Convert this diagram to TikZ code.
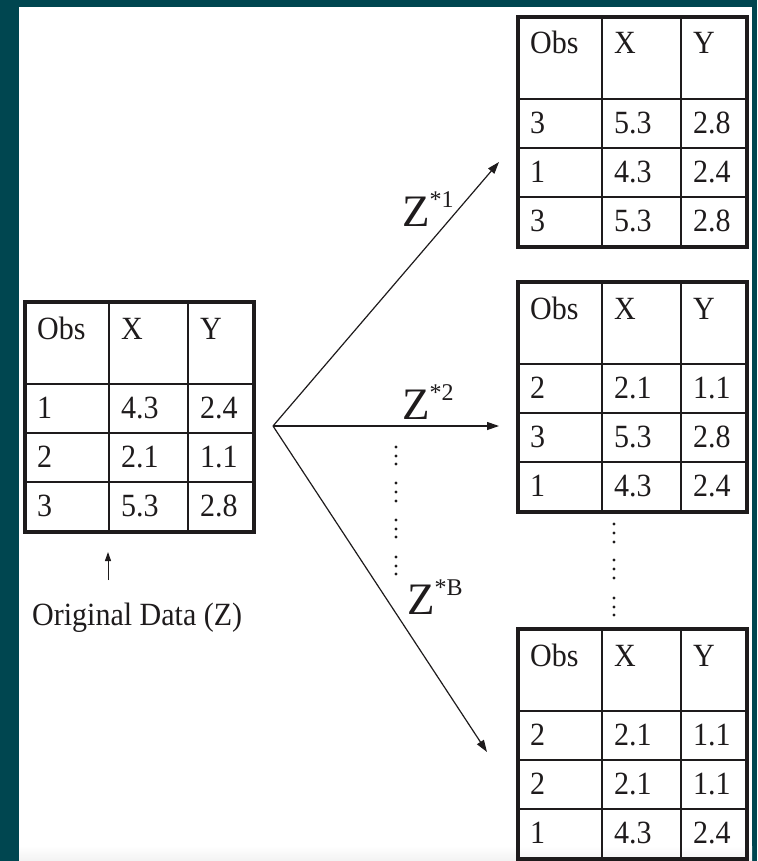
\documentclass[tikz,border=0pt]{standalone}
\usepackage{fontspec}
\setmainfont{Liberation Serif}
\usetikzlibrary{arrows.meta}
\definecolor{bgteal}{RGB}{0,70,80}
\definecolor{ink}{RGB}{30,27,28}
\tikzset{
  thinrule/.style={line width=1.5pt, draw=ink},
  thickrule/.style={line width=3.5pt, draw=ink, line join=miter},
  cell/.style={anchor=base west, inner sep=0pt, text=ink, font=\fontsize{30}{30}\selectfont},
  zlabel/.style={anchor=base west, inner sep=0pt, text=ink, font=\fontsize{45}{45}\selectfont},
  bootarrow/.style={line width=1.2pt, draw=ink, -{Triangle[length=12pt,width=8pt]}},
  smallarrow/.style={line width=1pt, draw=ink, -{Triangle[length=9pt,width=6pt]}},
  dotmark/.style={fill=ink, draw=none}
}
\newcommand\drawdatatable[4]{%
  \begin{scope}[shift={(#2,#3)}]
    \draw[thinrule] (84,0) -- (84,230) (163,0) -- (163,230)
      (0,82) -- (229,82) (0,131) -- (229,131) (0,180) -- (229,180);
    \draw[thickrule] (0,0) rectangle (229,230);
    \node[cell] (#1-h1) at (12,37) {\scalebox{1}[1.08]{Obs}};
    \node[cell] (#1-h2) at (96,37) {\scalebox{1}[1.08]{X}};
    \node[cell] (#1-h3) at (175,37) {\scalebox{1}[1.08]{Y}};
    \foreach \a/\b/\c [count=\i] in {#4} {
      \node[cell] (#1-r\i-a) at (12,67.5+49*\i) {\scalebox{1}[1.08]{\a}};
      \node[cell] (#1-r\i-b) at (96,67.5+49*\i) {\scalebox{1}[1.08]{\b}};
      \node[cell] (#1-r\i-c) at (175,67.5+49*\i) {\scalebox{1}[1.08]{\c}};
    }
  \end{scope}}
\newcommand\zlab[1]{Z\raisebox{19pt}{\fontsize{24}{24}\selectfont *#1}}
\begin{document}
\begin{tikzpicture}[x=1pt,y=-1pt]
  \useasboundingbox (0,0) rectangle (757,861);
  \fill[bgteal] (0,0) rectangle (757,861);
  \fill[white] (19,7) rectangle (752,861);
  \shade[top color=white, bottom color=gray!10] (19,846) rectangle (752,861);

  % tables
  \drawdatatable{orig}{25}{302}{1/4.3/2.4, 2/2.1/1.1, 3/5.3/2.8}
  \drawdatatable{boot1}{518}{17}{3/5.3/2.8, 1/4.3/2.4, 3/5.3/2.8}
  \drawdatatable{boot2}{518}{282}{2/2.1/1.1, 3/5.3/2.8, 1/4.3/2.4}
  \drawdatatable{bootB}{518}{629}{2/2.1/1.1, 2/2.1/1.1, 1/4.3/2.4}

  % original data label and arrow
  \node[cell] (origlabel) at (32,625) {\scalebox{1}[1.08]{Original Data (Z)}};
  \coordinate (upfoot) at (108,580);
  \coordinate (uptip) at (108,552);
  \draw[smallarrow] (upfoot) -- (uptip);

  % bootstrap arrows
  \coordinate (src) at (273,426);
  \coordinate (tip1) at (499,162);
  \coordinate (tip2) at (499,426);
  \coordinate (tipB) at (487,752);
  \draw[bootarrow] (src) -- (tip1);
  \draw[bootarrow] (src) -- (tip2);
  \draw[bootarrow] (src) -- (tipB);

  % labels
  \node[zlabel] (z1) at (402,226) {\zlab{1}};
  \node[zlabel] (z2) at (402,419) {\zlab{2}};
  \node[zlabel] (zB) at (407,614) {\zlab{B}};

  % vertical dots
  \foreach \y in {447,456,464,483,492,501,520,529,537,557,566,574}
    \fill[dotmark] (396,\y) circle (1.7pt);
  \foreach \y in {524,533,542,560,569,578,598,607,615}
    \fill[dotmark] (614,\y) circle (1.7pt);
\end{tikzpicture}
\end{document}
